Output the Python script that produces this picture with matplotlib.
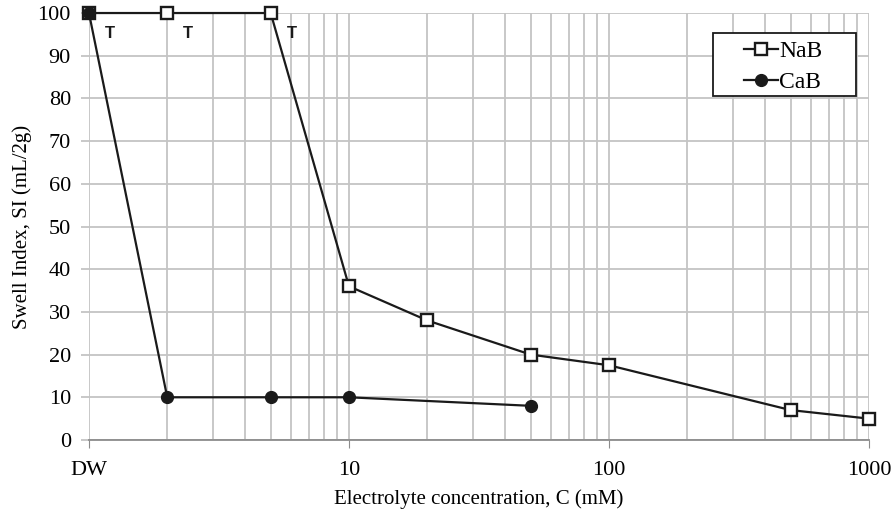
import matplotlib
matplotlib.use('Agg')
import matplotlib.pyplot as plt
from matplotlib.patches import Rectangle
from matplotlib.ticker import FixedLocator, FixedFormatter, LogLocator, NullFormatter

# Datos
nab_c = [1, 2, 5, 10, 20, 50, 100, 500, 1000]
nab_si = [100, 100, 100, 36, 28, 20, 17.5, 7, 5]
cab_c = [1, 2, 5, 10, 50]
cab_si = [100, 10, 10, 10, 8]
t_c = [1, 2, 5]
t_si = [100, 100, 100]
x_ticks = [1, 10, 100, 1000]
x_labels = ['DW', '10', '100', '1000']
y_ticks = list(range(0, 101, 10))

plt.rcParams['font.family'] = ['Liberation Serif', 'DejaVu Serif']

fig = plt.figure(figsize=(8.95, 5.21), dpi=100)
ax = fig.add_axes([0.0994, 0.1555, 0.8715, 0.8195])

grid_col = '#c4c4c4'
line_col = '#1a1a1a'

ax.plot(nab_c, nab_si, color=line_col, lw=1.6, marker='s', ms=9,
        mfc='white', mec=line_col, mew=1.7, label='NaB', zorder=3, clip_on=False)
ax.plot(cab_c, cab_si, color=line_col, lw=1.6, marker='o', ms=8.5,
        mfc=line_col, mec=line_col, label='CaB', zorder=4, clip_on=False)

for c, s in zip(t_c, t_si):
    ax.annotate('T', (c, s), xytext=(15, -14.5), textcoords='offset points',
                ha='center', va='center', fontsize=12, fontweight='bold',
                family='Liberation Sans', color=line_col)

ax.set_xscale('log')
ax.set_xlim(1, 1000)
ax.set_ylim(0, 100)
ax.xaxis.set_major_locator(FixedLocator(x_ticks))
ax.xaxis.set_major_formatter(FixedFormatter(x_labels))
ax.xaxis.set_minor_locator(LogLocator(base=10, subs=range(2, 10)))
ax.xaxis.set_minor_formatter(NullFormatter())
ax.set_yticks(y_ticks)

ax.grid(True, which='both', color=grid_col, lw=1.3)
ax.set_axisbelow(True)
for side in ['top', 'right', 'left']:
    ax.spines[side].set_visible(False)
ax.spines['bottom'].set_color('#8c8c8c')
ax.spines['bottom'].set_linewidth(1.3)
ax.tick_params(axis='x', which='major', length=6, color='#8c8c8c', labelsize=16, pad=9)
ax.tick_params(axis='x', which='minor', length=0)
ax.tick_params(axis='y', length=6, color=grid_col, width=1.3, labelsize=16, pad=7)

ax.set_xlabel('Electrolyte concentration, C (mM)', fontsize=15, labelpad=7)
ax.set_ylabel('Swell Index, SI (mL/2g)', fontsize=15, labelpad=4)

# leyenda sin marco; el recuadro se dibuja aparte para imitar el relleno ancho
leg = ax.legend(loc='center', bbox_to_anchor=(0.89, 0.874), fontsize=17,
                frameon=False, handlelength=1.45, handletextpad=0.05,
                borderpad=0, labelspacing=0.4)
ax.add_patch(Rectangle((0.8, 0.806), 0.183, 0.147, transform=ax.transAxes,
                       facecolor='white', edgecolor=line_col, lw=1.3, zorder=5))
leg.set_zorder(6)

fig.savefig('out.png', dpi=100)
